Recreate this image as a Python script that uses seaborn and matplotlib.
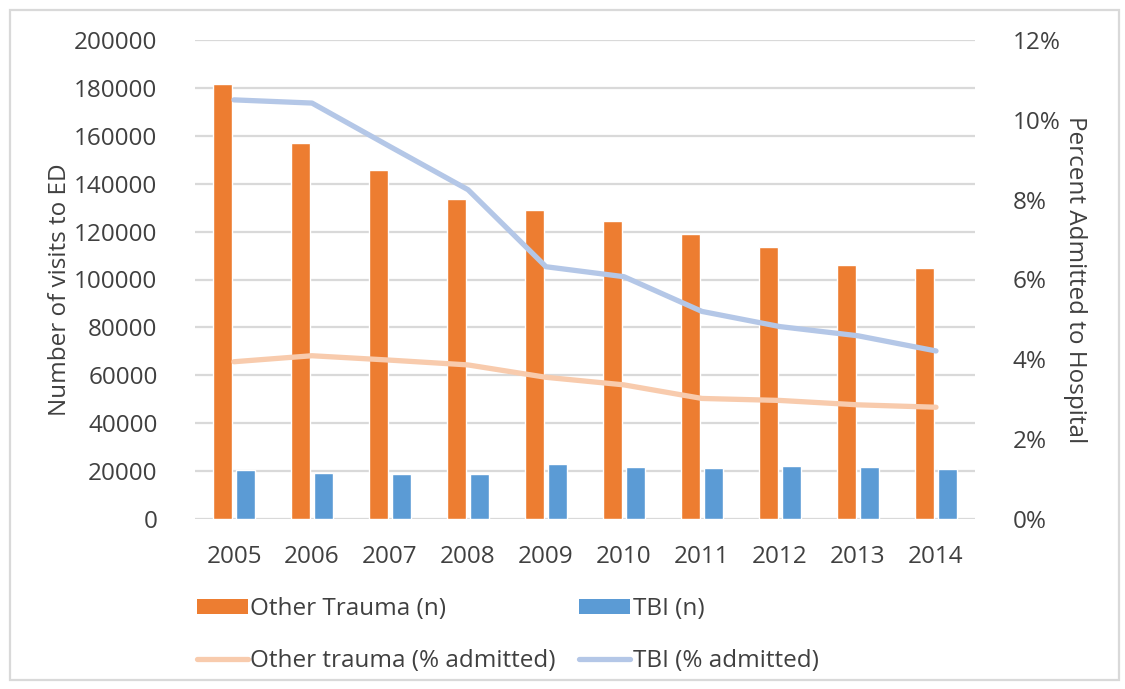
import numpy as np
import pandas as pd
import matplotlib
matplotlib.use("Agg")
import matplotlib.pyplot as plt
from matplotlib.patches import Rectangle, Patch
from matplotlib.lines import Line2D
from matplotlib.ticker import FuncFormatter
import seaborn as sns

# ---- data ----
years = ["2005", "2006", "2007", "2008", "2009", "2010", "2011", "2012", "2013", "2014"]
other_trauma_n = [181800, 157200, 145600, 133700, 129200, 124600, 118900, 113600, 106100, 104700]
tbi_n = [20400, 19200, 18800, 18800, 23000, 21900, 21300, 22300, 21700, 21000]
other_trauma_pct = [3.94, 4.09, 3.98, 3.86, 3.55, 3.36, 3.02, 2.97, 2.86, 2.80]
tbi_pct = [10.50, 10.42, 9.33, 8.25, 6.32, 6.07, 5.20, 4.82, 4.59, 4.21]
bar_series = ["Other Trauma (n)", "TBI (n)"]
line_series = ["Other trauma (% admitted)", "TBI (% admitted)"]
left_ticks = [0, 20000, 40000, 60000, 80000, 100000, 120000, 140000, 160000, 180000, 200000]
right_ticks = [0, 2, 4, 6, 8, 10, 12]

bar_colors = ["#ED7D31", "#5B9BD5"]
line_colors = ["#F8CBAD", "#B4C7E7"]
text_color = "#404040"
grid_color = "#D9D9D9"

sns.set_theme(style="white")
plt.rcParams["font.family"] = ["Open Sans", "DejaVu Sans"]
FS = 17.5

W, H = 1125, 689
fig = plt.figure(figsize=(W / 100, H / 100), dpi=100)
ax = fig.add_axes([195 / W, 1 - 519 / H, 780 / W, 479 / H])

bars = pd.DataFrame({
    "year": years * 2,
    "value": other_trauma_n + tbi_n,
    "series": [bar_series[0]] * len(years) + [bar_series[1]] * len(years),
})
sns.barplot(data=bars, x="year", y="value", hue="series", hue_order=bar_series,
            palette=bar_colors, width=0.6, gap=0.18, ax=ax, legend=False,
            saturation=1, zorder=2)

ax.set_xlim(-0.5, len(years) - 0.5)
ax.set_ylim(0, 200000)
ax.set_yticks(left_ticks)
ax.set_yticklabels([str(t) for t in left_ticks])
ax.yaxis.grid(True, color=grid_color, lw=1.6, zorder=0)
ax.set_axisbelow(True)
for s in ax.spines.values():
    s.set_visible(False)
ax.tick_params(axis="both", length=0, labelsize=FS, labelcolor=text_color)
ax.tick_params(axis="y", pad=27)
ax.tick_params(axis="x", pad=19)
ax.set_xlabel("")
ax.set_ylabel("")

ax2 = ax.twinx()
pos = np.arange(len(years))
lines = pd.DataFrame({
    "pos": np.concatenate([pos, pos]),
    "pct": other_trauma_pct + tbi_pct,
    "series": [line_series[0]] * len(years) + [line_series[1]] * len(years),
})
sns.lineplot(data=lines, x="pos", y="pct", hue="series", hue_order=line_series,
             palette=line_colors, lw=3.8, ax=ax2, legend=False)
ax2.set_ylim(0, 12)
ax2.set_yticks(right_ticks)
ax2.yaxis.set_major_formatter(FuncFormatter(lambda v, p: f"{v:.0f}%"))
for s in ax2.spines.values():
    s.set_visible(False)
ax2.tick_params(axis="y", length=0, labelsize=FS, labelcolor=text_color, pad=27)
ax2.set_xlabel("")
ax2.set_ylabel("")
ax2.grid(False)
ax2.set_xlim(-0.5, len(years) - 0.5)

fig.text(60 / W, 1 - 290 / H, "Number of visits to ED", rotation=90, ha="center",
         va="center", fontsize=FS, color=text_color)
fig.text(1075 / W, 1 - 280 / H, "Percent Admitted to Hospital", rotation=270,
         ha="center", va="center", fontsize=FS, color=text_color)

handles = [
    Patch(facecolor=bar_colors[0], edgecolor="none"),
    Line2D([0], [0], color=line_colors[0], lw=3.8),
    Patch(facecolor=bar_colors[1], edgecolor="none"),
    Line2D([0], [0], color=line_colors[1], lw=3.8),
]
labels = [bar_series[0], line_series[0], bar_series[1], line_series[1]]
leg = fig.legend(handles, labels, loc="upper left", bbox_to_anchor=(197 / W, 1 - 597 / H),
                 ncol=2, frameon=False, fontsize=FS, handlelength=2.1, handleheight=0.6,
                 handletextpad=0.1, columnspacing=0.95, labelspacing=1.15, borderaxespad=0,
                 borderpad=0)
for t in leg.get_texts():
    t.set_color(text_color)

fig.patches.append(Rectangle((10 / W, 1 - 680 / H), 1109 / W, 670 / H, transform=fig.transFigure,
                             fill=False, edgecolor=grid_color, lw=1.6))

fig.savefig("out.png", dpi=100, facecolor="white")
